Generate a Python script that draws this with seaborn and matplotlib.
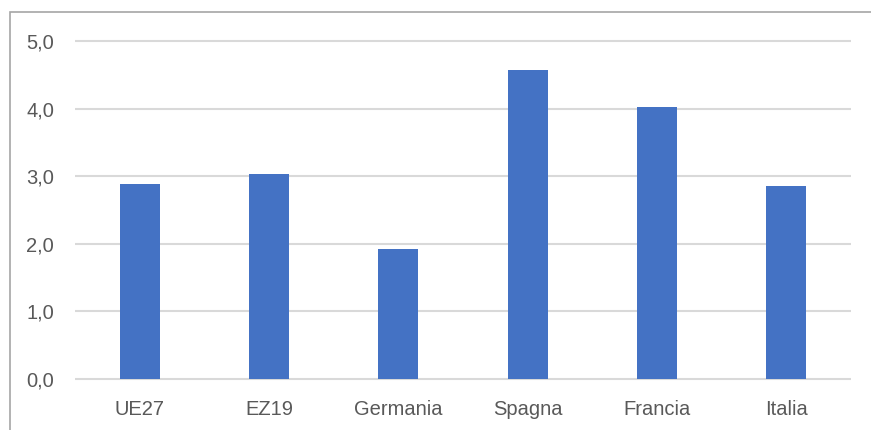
import matplotlib
matplotlib.use("Agg")
import matplotlib.pyplot as plt
from matplotlib.patches import Rectangle
from matplotlib.ticker import FuncFormatter
import seaborn as sns
import pandas as pd

# Values per area
paesi = ["UE27", "EZ19", "Germania", "Spagna", "Francia", "Italia"]
valori = [2.88, 3.03, 1.92, 4.57, 4.02, 2.85]
yticks = [0.0, 1.0, 2.0, 3.0, 4.0, 5.0]

df = pd.DataFrame({"paese": paesi, "valore": valori})

sns.set_theme(style="white")
plt.rcParams["font.family"] = ["Liberation Sans", "DejaVu Sans"]

W, H = 871, 430
fig = plt.figure(figsize=(W / 100, H / 100), dpi=100)

# axes placed so that 0 sits at y=379px and 5 at y=41px
ymin, ymax = -0.05, 5.05
ppu = (379 - 41) / 5.0
bottom_px = 379 + (0 - ymin) * ppu
top_px = 41 - (ymax - 5) * ppu
ax = fig.add_axes([75 / W, (H - bottom_px) / H, (851 - 75) / W, (bottom_px - top_px) / H])

sns.barplot(data=df, x="paese", y="valore", color="#4472C4", saturation=1,
            width=0.31, linewidth=0, ax=ax, zorder=3)

ax.set_ylim(ymin, ymax)
ax.set_xlim(-0.5, len(paesi) - 0.5)
ax.set_yticks(yticks)
ax.yaxis.set_major_formatter(FuncFormatter(lambda v, p: f"{v:.1f}".replace(".", ",")))
ax.grid(axis="y", color="#d9d9d9", linewidth=1.5, zorder=0)
ax.grid(axis="x", visible=False)
for s in ax.spines.values():
    s.set_visible(False)
ax.tick_params(axis="both", length=0, labelsize=14.5, labelcolor="#595959")
ax.tick_params(axis="y", pad=15)
ax.tick_params(axis="x", pad=13)
ax.set_xlabel("")
ax.set_ylabel("")

# chart area frame (top and left edges visible)
fig.patches.append(Rectangle((10 / W, -0.1), 1.2, (H - 12) / H + 0.1,
                             transform=fig.transFigure, fill=False,
                             edgecolor="#a6a6a6", linewidth=1.2))

fig.savefig("out.png", dpi=100)
